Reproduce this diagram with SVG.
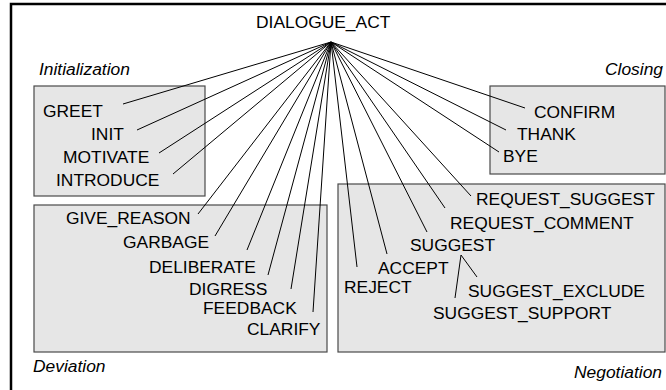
<svg xmlns="http://www.w3.org/2000/svg" width="666" height="390" viewBox="0 0 666 390">
<style>
.t{font-family:"Liberation Sans",Arial,sans-serif;font-size:17.4px;fill:#000}
.g{font-family:"Liberation Sans",Arial,sans-serif;font-size:17.4px;font-style:italic;fill:#000}
.box{fill:#e6e6e6;stroke:#4a4a4a;stroke-width:1.2}
.c line{stroke:#000;stroke-width:1}
</style>
<rect x="0" y="0" width="666" height="390" fill="#fff"/>
<rect x="11" y="4" width="670" height="400" fill="none" stroke="#000" stroke-width="2.5"/>
<g id="group-initialization">
<rect class="box" x="34" y="86" width="171" height="110"/>
<text class="g" x="39" y="75">Initialization</text>
</g>
<g id="group-closing">
<rect class="box" x="490" y="86" width="175" height="88"/>
<text class="g" x="605" y="75">Closing</text>
</g>
<g id="group-deviation">
<rect class="box" x="34" y="205" width="293" height="147"/>
<text class="g" x="33" y="372">Deviation</text>
</g>
<g id="group-negotiation">
<rect class="box" x="338" y="184" width="327" height="168"/>
<text class="g" x="574" y="378">Negotiation</text>
</g>
<g id="connectors" class="c">
<line x1="331" y1="42" x2="123" y2="104"/>
<line x1="331" y1="42" x2="137" y2="130"/>
<line x1="331" y1="42" x2="159" y2="153"/>
<line x1="331" y1="42" x2="173" y2="174"/>
<line x1="331" y1="42" x2="198" y2="214"/>
<line x1="331" y1="42" x2="215" y2="236"/>
<line x1="331" y1="42" x2="247" y2="250"/>
<line x1="331" y1="42" x2="268" y2="275"/>
<line x1="331" y1="42" x2="291" y2="289"/>
<line x1="331" y1="42" x2="313" y2="312"/>
<line x1="331" y1="42" x2="357" y2="267"/>
<line x1="331" y1="42" x2="387" y2="254"/>
<line x1="331" y1="42" x2="427" y2="232"/>
<line x1="331" y1="42" x2="445" y2="208"/>
<line x1="331" y1="42" x2="471" y2="196"/>
<line x1="331" y1="42" x2="525" y2="108"/>
<line x1="331" y1="42" x2="506" y2="130"/>
<line x1="331" y1="42" x2="499" y2="152"/>
<line x1="461" y1="255" x2="477" y2="277"/>
<line x1="461" y1="255" x2="455" y2="298"/>
</g>
<g id="node-dialogue-act"><text class="t" x="256" y="28">DIALOGUE_ACT</text></g>
<g id="node-greet"><text class="t" x="43" y="117">GREET</text></g>
<g id="node-init"><text class="t" x="91" y="140">INIT</text></g>
<g id="node-motivate"><text class="t" x="63" y="163">MOTIVATE</text></g>
<g id="node-introduce"><text class="t" x="56" y="186">INTRODUCE</text></g>
<g id="node-confirm"><text class="t" x="534" y="118">CONFIRM</text></g>
<g id="node-thank"><text class="t" x="517" y="140">THANK</text></g>
<g id="node-bye"><text class="t" x="503" y="162">BYE</text></g>
<g id="node-give-reason"><text class="t" x="66" y="224">GIVE_REASON</text></g>
<g id="node-garbage"><text class="t" x="123" y="248">GARBAGE</text></g>
<g id="node-deliberate"><text class="t" x="149" y="273">DELIBERATE</text></g>
<g id="node-digress"><text class="t" x="189" y="295">DIGRESS</text></g>
<g id="node-feedback"><text class="t" x="203" y="314">FEEDBACK</text></g>
<g id="node-clarify"><text class="t" x="247" y="335">CLARIFY</text></g>
<g id="node-request-suggest"><text class="t" x="476" y="205">REQUEST_SUGGEST</text></g>
<g id="node-request-comment"><text class="t" x="450" y="229">REQUEST_COMMENT</text></g>
<g id="node-suggest"><text class="t" x="410" y="251">SUGGEST</text></g>
<g id="node-accept"><text class="t" x="378" y="274">ACCEPT</text></g>
<g id="node-reject"><text class="t" x="344" y="293">REJECT</text></g>
<g id="node-suggest-exclude"><text class="t" x="468" y="297">SUGGEST_EXCLUDE</text></g>
<g id="node-suggest-support"><text class="t" x="433" y="319">SUGGEST_SUPPORT</text></g>
</svg>
